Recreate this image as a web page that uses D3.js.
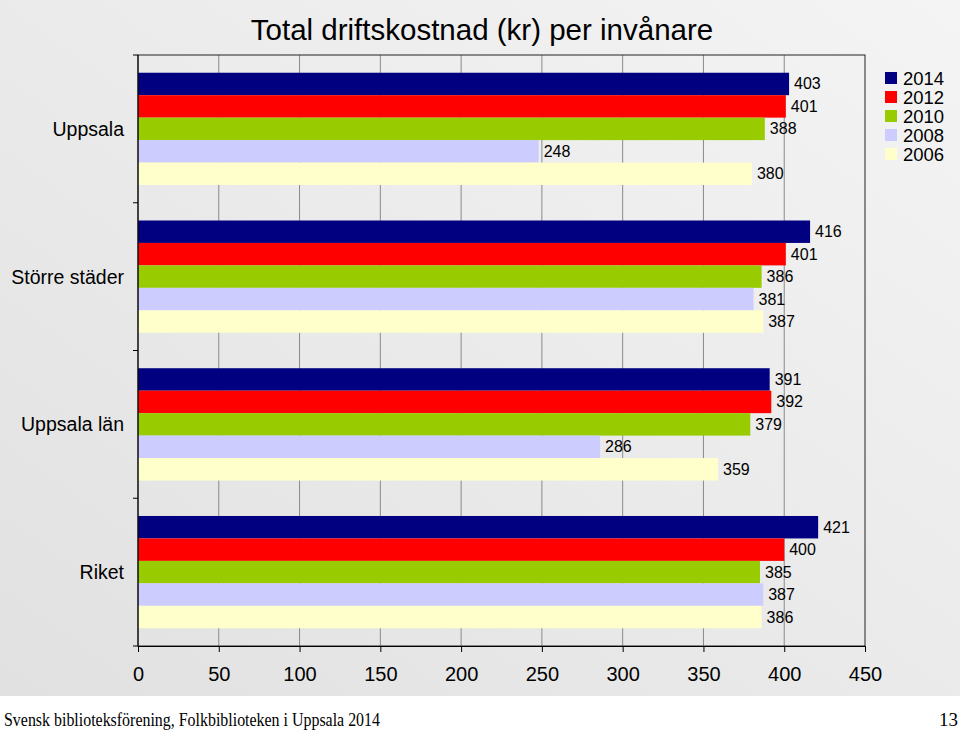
<!DOCTYPE html>
<html>
<head>
<meta charset="utf-8">
<script src="https://cdn.jsdelivr.net/npm/d3@7"></script>
<style>
body { margin: 0; background: #fff; }
text { font-family: Arial, "Liberation Sans", sans-serif; fill: #000; }
.foot { font-family: "Liberation Serif", "DejaVu Serif", serif; }
</style>
</head>
<body>
<svg width="960" height="730"></svg>
<script>
// data
const categories = ["Uppsala", "Större städer", "Uppsala län", "Riket"]
const years = ["2014", "2012", "2010", "2008", "2006"]
const colors = ["#000080", "#ff0000", "#99cc00", "#ccccff", "#ffffcc"]
const v2014 = [403, 416, 391, 421]
const v2012 = [401, 401, 392, 400]
const v2010 = [388, 386, 379, 385]
const v2008 = [248, 381, 286, 387]
const v2006 = [380, 387, 359, 386]
const xTicks = [0, 50, 100, 150, 200, 250, 300, 350, 400, 450]

const series = [v2014, v2012, v2010, v2008, v2006]
const rows = []
categories.forEach((c, i) => {
	years.forEach((y, j) => {
		rows.push({cat: c, year: y, value: series[j][i], color: colors[j]})
	})
})

const svg = d3.select("svg")

// background gradient
const defs = svg.append("defs")
const grad = defs.append("linearGradient")
	.attr("id", "bg")
	.attr("x1", "0").attr("y1", "1").attr("x2", "1").attr("y2", "0")
grad.append("stop").attr("offset", "0").attr("stop-color", "#e1e1e1")
grad.append("stop").attr("offset", "1").attr("stop-color", "#f4f4f4")

svg.append("rect")
	.attr("x", 0).attr("y", 0)
	.attr("width", 960).attr("height", 696)
	.attr("fill", "url(#bg)")

const pLeft = 138, pRight = 865, pTop = 55, pBottom = 646

const x = d3.scaleLinear()
	.domain([0, 450])
	.range([pLeft, pRight])

const yCat = d3.scaleBand()
	.domain(categories)
	.range([pTop, pBottom])
	.paddingInner(0.24)
	.paddingOuter(0.12)

const yYear = d3.scaleBand()
	.domain(years)
	.range([0, yCat.bandwidth()])

// gridlines
svg.append("g")
	.selectAll("line")
	.data(xTicks.slice(1, -1))
	.enter()
	.append("line")
	.attr("x1", d => x(d)).attr("x2", d => x(d))
	.attr("y1", pTop).attr("y2", pBottom)
	.attr("stroke", "#8a8a8a")
	.attr("stroke-width", 1)

// bars
svg.append("g")
	.selectAll("rect")
	.data(rows)
	.enter()
	.append("rect")
	.attr("x", x(0))
	.attr("y", d => yCat(d.cat) + yYear(d.year))
	.attr("width", d => x(d.value) - x(0))
	.attr("height", yYear.bandwidth())
	.attr("fill", d => d.color)

// value labels
svg.append("g")
	.selectAll("text")
	.data(rows)
	.enter()
	.append("text")
	.attr("x", d => x(d.value) + 5)
	.attr("y", d => yCat(d.cat) + yYear(d.year) + yYear.bandwidth() / 2)
	.attr("dominant-baseline", "central")
	.style("font-size", "16px")
	.text(d => d.value)

// frame
svg.append("rect")
	.attr("x", pLeft).attr("y", pTop)
	.attr("width", pRight - pLeft).attr("height", pBottom - pTop)
	.attr("fill", "none")
	.attr("stroke", "#222")
	.attr("stroke-width", 1)

// x axis
const xAxis = svg.append("g")
	.attr("transform", `translate(0,${pBottom})`)
	.call(d3.axisBottom(x).tickValues(xTicks).tickSize(6).tickSizeOuter(0).tickPadding(15))
xAxis.select(".domain").attr("stroke", "#000")
xAxis.selectAll(".tick line").attr("stroke", "#000")
xAxis.selectAll("text")
	.style("font-size", "20px")
	.style("font-family", "Arial, 'Liberation Sans', sans-serif")
	.attr("fill", "#000")

// category ticks on the left
const bounds = [pTop].concat(categories.map(c => yCat(c) + yCat.bandwidth() + yCat.step() * 0.12))
svg.append("g")
	.selectAll("line")
	.data(bounds)
	.enter()
	.append("line")
	.attr("x1", pLeft - 5).attr("x2", pLeft)
	.attr("y1", d => d).attr("y2", d => d)
	.attr("stroke", "#000")

svg.append("line")
	.attr("x1", pLeft).attr("x2", pLeft)
	.attr("y1", pTop).attr("y2", pBottom)
	.attr("stroke", "#000")

// category labels
svg.append("g")
	.selectAll("text")
	.data(categories)
	.enter()
	.append("text")
	.attr("x", 124)
	.attr("y", d => yCat(d) + yCat.bandwidth() / 2)
	.attr("text-anchor", "end")
	.attr("dominant-baseline", "central")
	.style("font-size", "19.5px")
	.text(d => d)

// title
svg.append("text")
	.attr("x", 482)
	.attr("y", 40)
	.attr("text-anchor", "middle")
	.style("font-size", "29.5px")
	.text("Total driftskostnad (kr) per invånare")

// legend
const legend = svg.append("g")
	.selectAll("g")
	.data(years)
	.enter()
	.append("g")
	.attr("transform", (d, i) => `translate(885,${72 + i * 19})`)

legend.append("rect")
	.attr("width", 12).attr("height", 12)
	.attr("fill", (d, i) => colors[i])

legend.append("text")
	.attr("x", 18)
	.attr("y", 6)
	.attr("dominant-baseline", "central")
	.style("font-size", "18.5px")
	.text(d => d)

// footer
svg.append("text")
	.attr("class", "foot")
	.attr("x", 4)
	.attr("y", 726)
	.attr("textLength", 376)
	.attr("lengthAdjust", "spacingAndGlyphs")
	.style("font-size", "19px")
	.text("Svensk biblioteksförening, Folkbiblioteken i Uppsala 2014")

svg.append("text")
	.attr("class", "foot")
	.attr("x", 958)
	.attr("y", 726)
	.attr("text-anchor", "end")
	.style("font-size", "19px")
	.text("13")
</script>
</body>
</html>
